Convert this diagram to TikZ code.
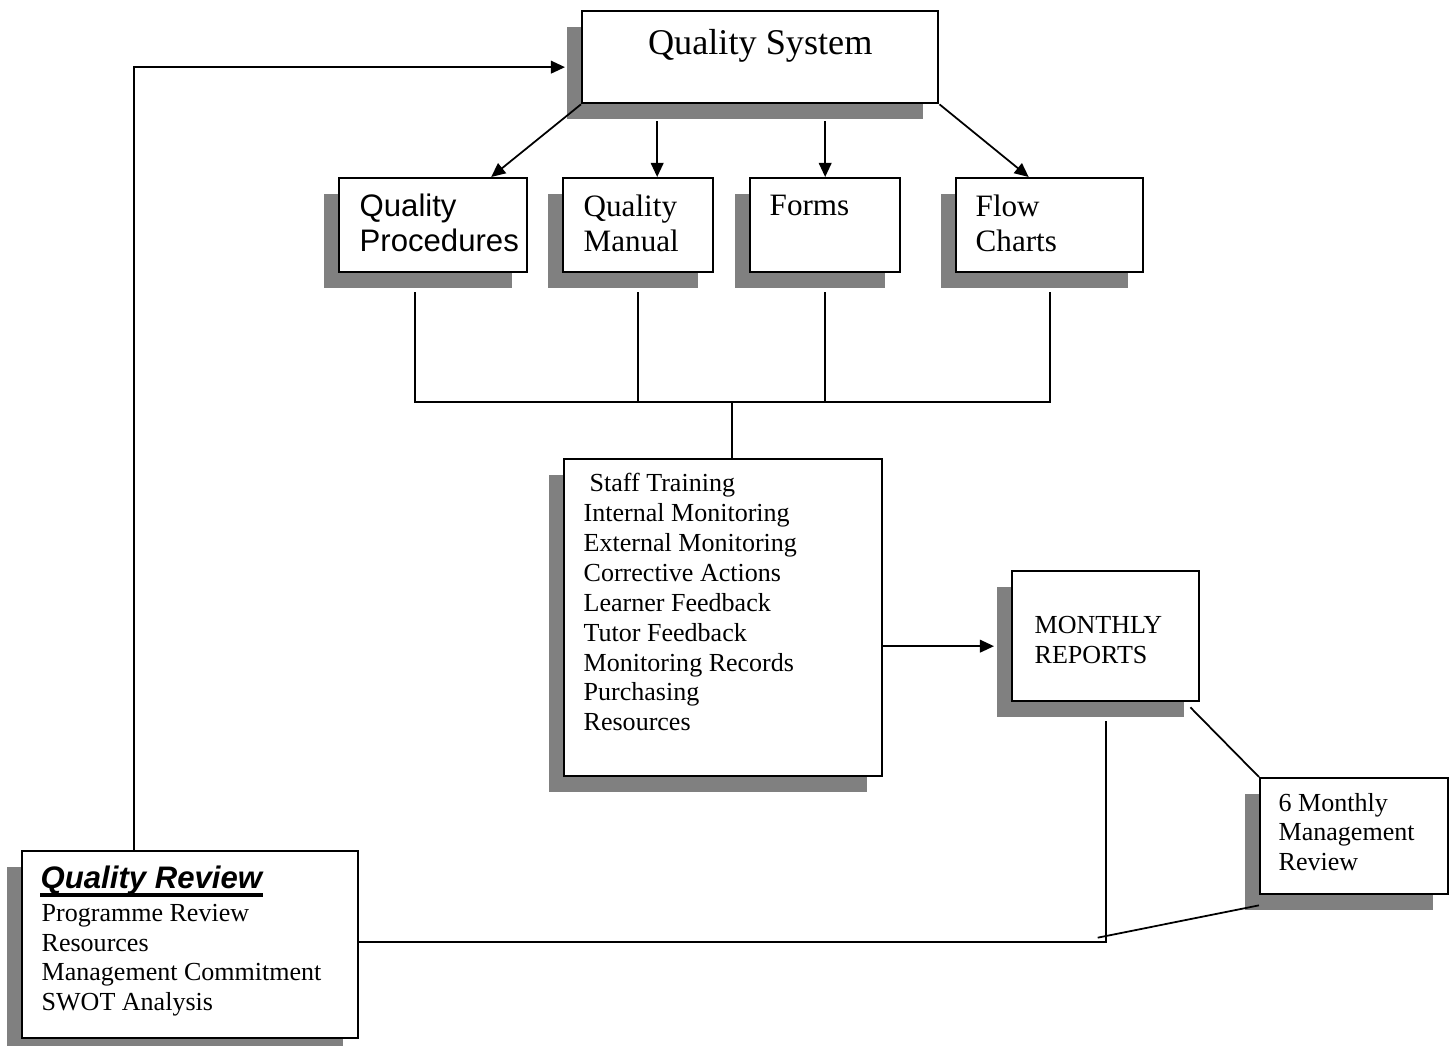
\documentclass[tikz,border=0pt]{standalone}
\usepackage{fontspec}
\setmainfont{Liberation Serif}
\newfontfamily\arialfont{Liberation Sans}
\usepackage{tikz}
\usetikzlibrary{positioning, arrows.meta, shadows, calc}
\definecolor{ShadowGray}{RGB}{128,128,128}

\tikzset{
  qbox/.style={draw, line width=0.65pt, fill=white, inner sep=0pt, anchor=north west,
    drop shadow={shadow xshift=-0.15cm, shadow yshift=-0.16cm, fill=ShadowGray, opacity=1}},
  lbl/.style={anchor=base west, inner sep=0pt, align=left},
  conn/.style={line width=0.5pt},
  arr/.style={line width=0.5pt, -{Triangle[length=4pt, width=3.6pt]}}
}
\newcommand{\titlefont}{\fontsize{10.3}{12}\selectfont}
\newcommand{\boxfont}{\fontsize{8.85}{9.96}\selectfont}
\newcommand{\listfont}{\fontsize{7.4}{8.53}\selectfont}

\begin{document}
\begin{tikzpicture}[x=0.01cm, y=-0.01cm]
  \useasboundingbox (0,0) rectangle (1453,1046);

  % boxes
  \node[qbox, minimum width=3.56cm, minimum height=0.92cm] (qs) at (581,10) {};
  \node[qbox, minimum width=1.88cm, minimum height=0.94cm] (qp) at (338,177) {};
  \node[qbox, minimum width=1.50cm, minimum height=0.94cm] (qm) at (562,177) {};
  \node[qbox, minimum width=1.50cm, minimum height=0.94cm] (fm) at (749,177) {};
  \node[qbox, minimum width=1.87cm, minimum height=0.94cm] (fc) at (955,177) {};
  \node[qbox, minimum width=3.18cm, minimum height=3.17cm] (list) at (563,458) {};
  \node[qbox, minimum width=1.87cm, minimum height=1.30cm] (mr) at (1011,570) {};
  \node[qbox, minimum width=1.88cm, minimum height=1.16cm] (mmr) at (1259,777) {};
  \node[qbox, minimum width=3.36cm, minimum height=1.87cm] (qr) at (21,850) {};

  % texts (base = baseline of the last line)
  \node[anchor=base, inner sep=0pt, font=\titlefont] (qs-t) at ($(qs.north)+(0,45)$) {Quality System};
  \node[lbl, font=\boxfont\arialfont] (qp-t) at ($(qp.north west)+(21,75)$) {Quality\\Procedures};
  \node[lbl, font=\boxfont] (qm-t) at ($(qm.north west)+(21,75)$) {Quality\\Manual};
  \node[lbl, font=\boxfont] (fm-t) at ($(fm.north west)+(20,39)$) {Forms};
  \node[lbl, font=\boxfont] (fc-t) at ($(fc.north west)+(20,75)$) {Flow\\Charts};
  \node[lbl, font=\listfont] (list-t) at ($(list.north west)+(20,273)$)
    {\hspace{0.6mm}Staff Training\\Internal Monitoring\\External Monitoring\\Corrective Actions\\
     Learner Feedback\\Tutor Feedback\\Monitoring Records\\Purchasing\\Resources};
  \node[lbl, font=\listfont] (mr-t) at ($(mr.north west)+(23,94)$) {MONTHLY\\REPORTS};
  \node[lbl, font=\listfont] (mmr-t) at ($(mmr.north west)+(19,94)$) {6 Monthly\\Management\\Review};
  \node[lbl, font=\boxfont\arialfont\bfseries\itshape] (qr-h) at ($(qr.north west)+(19,39)$) {Quality Review};
  \draw[line width=0.9pt] ($(qr-h.base west)+(0,6)$) -- ($(qr-h.base east)+(0,6)$);
  \node[lbl, font=\listfont] (qr-t) at ($(qr.north west)+(20,161)$)
    {Programme Review\\Resources\\Management Commitment\\SWOT Analysis};

  % connectors
  \coordinate (qs-foot) at ($(qs.south)+(0,17)$);
  \coordinate (qm-in) at ($(qm.north)+(19,0)$);
  \draw[arr] (qs.south west) -- ($(qp.north)+(58,0)$);
  \draw[arr] (qs-foot -| qm-in) -- (qm-in);
  \draw[arr] (qs-foot -| fm.north) -- (fm.north);
  \draw[arr] (qs.south east) -- ($(fc.north)+(-21,0)$);

  \coordinate (bus) at ($(list.north)+(9,-56)$);
  \coordinate (qp-foot) at ($(qp.south)+(-18,19)$);
  \coordinate (qm-foot) at ($(qm.south)+(0,19)$);
  \coordinate (fm-foot) at ($(fm.south)+(0,19)$);
  \coordinate (fc-foot) at ($(fc.south)+(0,19)$);
  \draw[conn] (qp-foot) -- (qp-foot |- bus) -- (fc-foot |- bus) -- (fc-foot);
  \draw[conn] (qm-foot) -- (qm-foot |- bus);
  \draw[conn] (fm-foot) -- (fm-foot |- bus);
  \draw[conn] (bus) -- (bus |- list.north);

  \coordinate (mr-in) at ($(mr.west)+(-17,10)$);
  \draw[arr] (list.east |- mr-in) -- (mr-in);
  \draw[conn] ($(mr.south east)+(-10,5)$) -- (mmr.north west);
  \coordinate (mr-foot) at ($(mr.south)+(0,19)$);
  \draw[conn] (mr-foot) -- ($(mr-foot |- qr.east)+(0,-3)$) -- ($(qr.east)+(0,-3)$);
  \draw[conn] ($(mmr.south west)+(0,10)$) -- ($(mr-foot |- qr.east)+(-8,-7)$);

  \coordinate (qs-in) at ($(qs.west)+(-16,10)$);
  \draw[arr] ($(qr.north)+(-56,0)$) |- (qs-in);
\end{tikzpicture}
\end{document}
